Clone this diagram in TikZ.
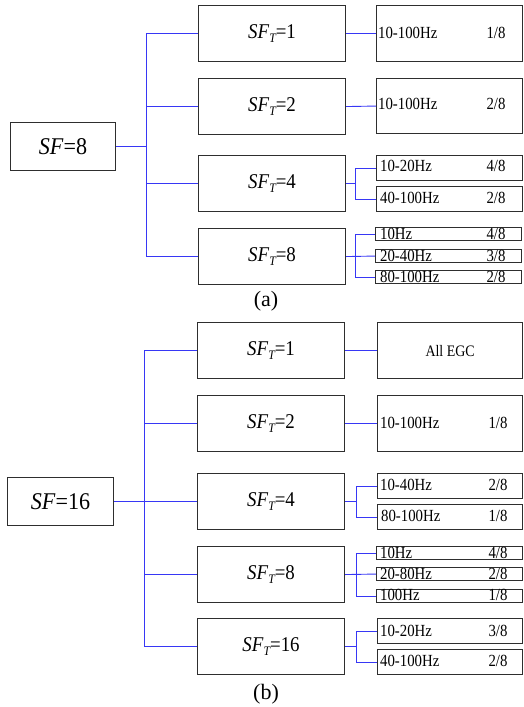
\documentclass[tikz,border=0pt]{standalone}
\usepackage{fontspec}
\usepackage{graphicx}
\setmainfont{Liberation Serif}
\definecolor{lnblue}{RGB}{55,55,245}
\newcommand\cz[1]{\scalebox{0.87}[1]{#1}}
\newcommand\czt[1]{\scalebox{0.9}[1]{#1}}
\newcommand\sfT[1]{\czt{\textit{SF}\raisebox{-0.35ex}{\fontsize{13}{13}\selectfont\itshape T}=#1}}
\tikzset{
  bx/.style={draw=black!82, line width=1.1pt, inner sep=0pt, anchor=north west},
  sfbox/.style={bx, font=\fontsize{24}{26}\selectfont},
  tbox/.style={bx, minimum width=147pt, minimum height=56pt, font=\fontsize{21}{23}\selectfont},
  rt/.style={inner sep=0pt, font=\fontsize{17}{18}\selectfont},
  conn/.style={draw=lnblue, line width=0.9pt},
  captxt/.style={inner sep=0pt, font=\fontsize{22}{24}\selectfont}
}
\begin{document}
\begin{tikzpicture}[x=1pt,y=-1pt]
\useasboundingbox (0,0) rectangle (524,707);
% ---------------- (a) ----------------
\node[sfbox, minimum width=105pt, minimum height=48pt] (sfa) at (10,122) {\scalebox{0.92}[1]{\textit{SF}=8}};
\node[tbox] (a1) at (198,5)   {\sfT{1}};
\node[tbox] (a2) at (198,78)  {\sfT{2}};
\node[tbox] (a3) at (198,155) {\sfT{4}};
\node[tbox] (a4) at (198,228) {\sfT{8}};
\coordinate (ja) at (146,0);
\coordinate (fa) at (355,0);
% right boxes (a)
\node[bx, minimum width=146pt, minimum height=56pt] (ar1) at (376,5) {};
\node[bx, minimum width=146pt, minimum height=55pt] (ar2) at (376,78) {};
\node[bx, minimum width=146pt, minimum height=25pt] (ar3a) at (376,155) {};
\node[bx, minimum width=146pt, minimum height=25pt] (ar3b) at (376,186) {};
\node[bx, minimum width=146pt, minimum height=13pt] (ar4a) at (375,227) {};
\node[bx, minimum width=146pt, minimum height=13pt] (ar4b) at (375,249) {};
\node[bx, minimum width=146pt, minimum height=13pt] (ar4c) at (375,270) {};
\node[rt, anchor=base west] (ar1l) at (378,38) {\cz{10-100Hz}};
\node[rt, anchor=base] (ar1f) at (496,38) {\cz{1/8}};
\node[rt, anchor=base west] (ar2l) at (378,109.5) {\cz{10-100Hz}};
\node[rt, anchor=base] (ar2f) at (496,109.5) {\cz{2/8}};
\node[rt, anchor=base west] (ar3al) at (380,171) {\cz{10-20Hz}};
\node[rt, anchor=base] (ar3af) at (496,171) {\cz{4/8}};
\node[rt, anchor=base west] (ar3bl) at (380,203) {\cz{40-100Hz}};
\node[rt, anchor=base] (ar3bf) at (496,203) {\cz{2/8}};
\node[rt, anchor=base west] (ar4al) at (380,239) {\cz{10Hz}};
\node[rt, anchor=base] (ar4af) at (496,239) {\cz{4/8}};
\node[rt, anchor=base west] (ar4bl) at (380,261) {\cz{20-40Hz}};
\node[rt, anchor=base] (ar4bf) at (496,261) {\cz{3/8}};
\node[rt, anchor=base west] (ar4cl) at (380,282) {\cz{80-100Hz}};
\node[rt, anchor=base] (ar4cf) at (496,282) {\cz{2/8}};
% connectors (a)
\draw[conn] (sfa.east) -- (ja |- sfa.east);
\draw[conn] (ja |- a1.west) -- (ja |- a4.west);
\foreach \n in {a1,a2,a3,a4} \draw[conn] (ja |- \n.west) -- (\n.west);
\draw[conn] (a1.east) -- (ar1.west);
\draw[conn] (a2.east) -- (ar2.west);
\draw[conn] (a3.east) -- (fa |- a3.east);
\draw[conn] (fa |- ar3a.west) -- (fa |- ar3b.west);
\draw[conn] (fa |- ar3a.west) -- (ar3a.west);
\draw[conn] (fa |- ar3b.west) -- (ar3b.west);
\draw[conn] (a4.east) -- (ar4b.west);
\draw[conn] (fa |- ar4a.west) -- (fa |- ar4c.west);
\draw[conn] (fa |- ar4a.west) -- (ar4a.west);
\draw[conn] (fa |- ar4c.west) -- (ar4c.west);
\node[captxt] (capa) at (266,301) {(a)};
% ---------------- (b) ----------------
\node[sfbox, minimum width=106pt, minimum height=48pt] (sfb) at (7,477) {\scalebox{0.92}[1]{\textit{SF}=16}};
\node[tbox] (b1) at (197,322) {\sfT{1}};
\node[tbox] (b2) at (197,395) {\sfT{2}};
\node[tbox] (b3) at (197,473) {\sfT{4}};
\node[tbox] (b4) at (197,546) {\sfT{8}};
\node[tbox] (b5) at (197,618) {\sfT{16}};
\coordinate (jb) at (144,0);
\coordinate (fb) at (356,0);
\node[bx, minimum width=145pt, minimum height=56pt, font=\fontsize{16}{17}\selectfont] (br1) at (377,322) {\cz{All EGC}};
\node[bx, minimum width=145pt, minimum height=56pt] (br2) at (377,395) {};
\node[bx, minimum width=145pt, minimum height=25pt] (br3a) at (377,473) {};
\node[bx, minimum width=145pt, minimum height=25pt] (br3b) at (377,504) {};
\node[bx, minimum width=146pt, minimum height=13pt] (br4a) at (376,546) {};
\node[bx, minimum width=146pt, minimum height=13pt] (br4b) at (376,567) {};
\node[bx, minimum width=146pt, minimum height=13pt] (br4c) at (376,589) {};
\node[bx, minimum width=145pt, minimum height=25pt] (br5a) at (377,618) {};
\node[bx, minimum width=145pt, minimum height=25pt] (br5b) at (377,649) {};
\node[rt, anchor=base west] (br2l) at (380,428) {\cz{10-100Hz}};
\node[rt, anchor=base] (br2f) at (498,428) {\cz{1/8}};
\node[rt, anchor=base west] (br3al) at (380,490) {\cz{10-40Hz}};
\node[rt, anchor=base] (br3af) at (498,490) {\cz{2/8}};
\node[rt, anchor=base west] (br3bl) at (381,521) {\cz{80-100Hz}};
\node[rt, anchor=base] (br3bf) at (498,521) {\cz{1/8}};
\node[rt, anchor=base west] (br4al) at (380,558) {\cz{10Hz}};
\node[rt, anchor=base] (br4af) at (498,558) {\cz{4/8}};
\node[rt, anchor=base west] (br4bl) at (380,579) {\cz{20-80Hz}};
\node[rt, anchor=base] (br4bf) at (498,579) {\cz{2/8}};
\node[rt, anchor=base west] (br4cl) at (380,600) {\cz{100Hz}};
\node[rt, anchor=base] (br4cf) at (498,600) {\cz{1/8}};
\node[rt, anchor=base west] (br5al) at (380,636) {\cz{10-20Hz}};
\node[rt, anchor=base] (br5af) at (498,636) {\cz{3/8}};
\node[rt, anchor=base west] (br5bl) at (380,666) {\cz{40-100Hz}};
\node[rt, anchor=base] (br5bf) at (498,666) {\cz{2/8}};
% connectors (b)
\draw[conn] (sfb.east) -- (jb |- sfb.east);
\draw[conn] (jb |- b1.west) -- (jb |- b5.west);
\foreach \n in {b1,b2,b3,b4,b5} \draw[conn] (jb |- \n.west) -- (\n.west);
\draw[conn] (b1.east) -- (br1.west);
\draw[conn] (b2.east) -- (br2.west);
\draw[conn] (b3.east) -- (fb |- b3.east);
\draw[conn] (fb |- br3a.west) -- (fb |- br3b.west);
\draw[conn] (fb |- br3a.west) -- (br3a.west);
\draw[conn] (fb |- br3b.west) -- (br3b.west);
\draw[conn] (b4.east) -- (br4b.west);
\draw[conn] (fb |- br4a.west) -- (fb |- br4c.west);
\draw[conn] (fb |- br4a.west) -- (br4a.west);
\draw[conn] (fb |- br4c.west) -- (br4c.west);
\draw[conn] (b5.east) -- (fb |- b5.east);
\draw[conn] (fb |- br5a.west) -- (fb |- br5b.west);
\draw[conn] (fb |- br5a.west) -- (br5a.west);
\draw[conn] (fb |- br5b.west) -- (br5b.west);
\node[captxt] (capb) at (266,694) {(b)};
\end{tikzpicture}
\end{document}
